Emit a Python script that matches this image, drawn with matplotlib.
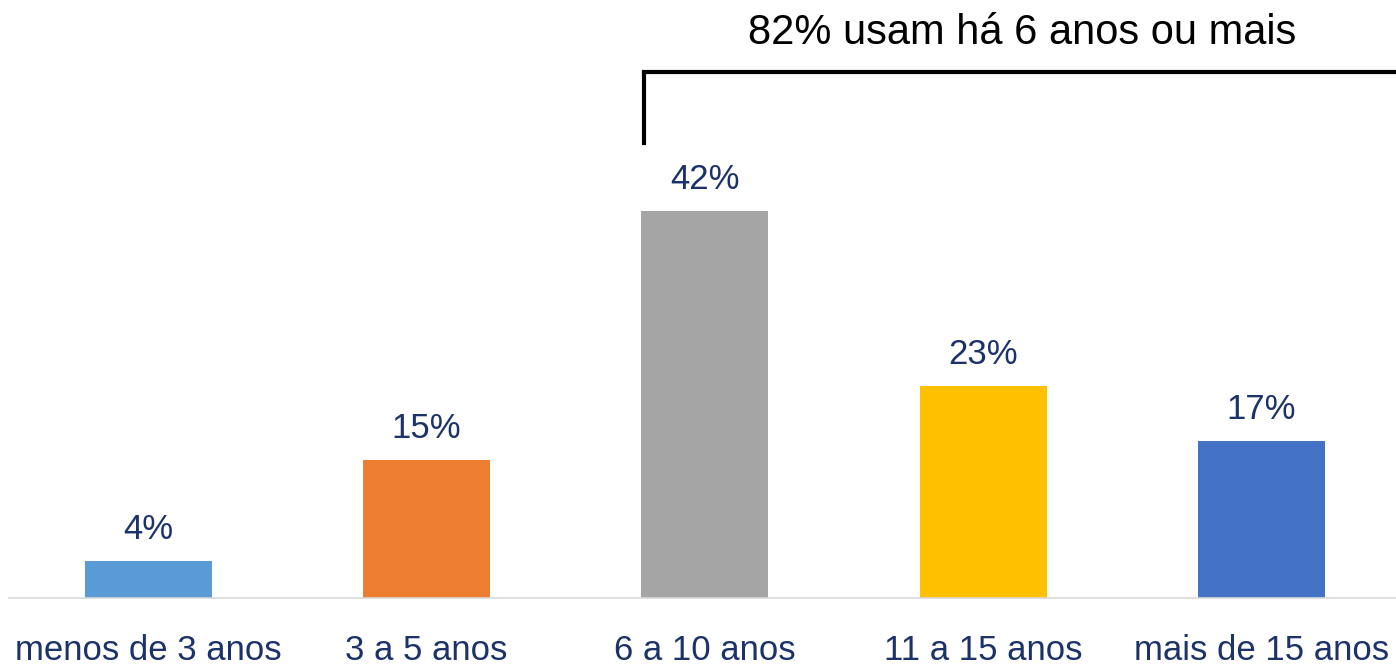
import matplotlib
matplotlib.use("Agg")
import matplotlib.pyplot as plt
import numpy as np
from matplotlib import font_manager

categories = ["menos de 3 anos", "3 a 5 anos", "6 a 10 anos", "11 a 15 anos", "mais de 15 anos"]
values = [4, 15, 42, 23, 17]
colors = ["#5B9BD5", "#ED7D31", "#A5A5A5", "#FFC000", "#4472C4"]
bracket_text = "82% usam há 6 anos ou mais"

names = {f.name for f in font_manager.fontManager.ttflist}
narrow = "Liberation Sans Narrow" if "Liberation Sans Narrow" in names else "Liberation Sans"
navy = "#1C336A"

fig = plt.figure(figsize=(13.96, 6.68), dpi=100)
ax = fig.add_axes([9 / 1396, 70 / 668, 1391.5 / 1396, 598 / 668])

x = np.arange(len(categories))
width = 0.456
bars = ax.bar(x, values, width=width, color=colors)

for xi, v in zip(x, values):
    ax.annotate(f"{v}%", (xi, v), xytext=(0, 11), textcoords="offset points",
                ha="center", va="bottom", fontsize=25, color=navy, family=narrow)

ax.set_xlim(-0.5, 4.5)
ax.set_ylim(0, 64.9)
ax.set_xticks(x)
ax.set_xticklabels(categories, fontsize=25, color=navy, family=narrow)
ax.tick_params(axis="x", length=0, pad=26)
ax.set_yticks([])
for s in ["top", "right", "left"]:
    ax.spines[s].set_visible(False)
ax.spines["bottom"].set_color("#D9D9D9")
ax.spines["bottom"].set_linewidth(1.2)

# bracket over the last three bars
bx0 = x[2] - width / 2 + 0.01
ax.plot([bx0, bx0, 4.6], [49.4, 57.1, 57.1], color="black", lw=3, clip_on=False,
        solid_joinstyle="miter")
ax.text(3.14, 61.3, bracket_text, ha="center", va="center", fontsize=30,
        family="Liberation Sans", color="black")

fig.savefig("out.png", dpi=100)
